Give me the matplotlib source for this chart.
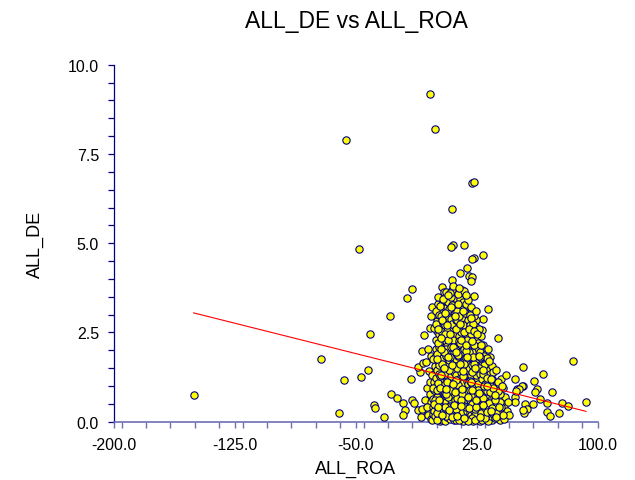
import matplotlib
matplotlib.use("Agg")
import matplotlib.pyplot as plt
from matplotlib.ticker import MultipleLocator, FormatStrFormatter
import numpy as np

plt.rcParams['font.family'] = ['Liberation Sans', 'DejaVu Sans']

# ---- data (ALL_ROA, ALL_DE) ----
outlier_pts = [
    (-56.4, 7.89), (-48.4, 4.85), (-150.6, 0.74), (-15.4, 3.73), (-18.3, 3.46),
    (-28.9, 2.95), (-41.5, 2.45), (-71.5, 1.76), (-42.4, 1.46), (-46.9, 1.26),
    (-57.6, 1.18), (-60.7, 0.25), (-38.6, 0.48), (-38.0, 0.38), (-32.8, 0.13),
    (-28.1, 0.78), (-24.4, 0.66), (-20.7, 0.52), (-19.6, 0.33), (-20.7, 0.20),
    (-15.5, 0.62), (-13.8, 0.53), (-11.3, 0.33), (-7.8, 0.22), (-15.7, 1.20),
    (-10.4, 1.38), (-11.3, 1.52), (-8.2, 1.64), (-9.2, 1.97), (-7.8, 2.43),
    (-5.1, 2.04), (-5.1, 0.43), (-5.1, 0.24),
    (-4.0, 9.19), (-0.9, 8.21), (21.7, 6.69), (23.4, 6.72), (9.7, 5.97),
    (9.9, 4.96), (9.1, 4.89), (17.0, 4.96), (28.5, 4.68), (23.0, 4.59),
    (14.7, 4.17), (19.0, 4.31), (20.2, 4.09), (21.9, 4.05), (21.1, 3.93),
    (9.7, 3.98), (21.7, 4.56), (31.6, 3.16), (28.8, 2.88), (28.0, 2.58),
    (38.2, 2.34), (84.6, 1.70), (53.7, 1.54), (65.7, 1.34), (48.6, 1.20),
    (60.5, 1.15), (53.3, 1.01), (62.0, 0.92), (71.7, 0.82), (49.6, 0.92),
    (48.6, 0.68), (64.1, 0.64), (68.2, 0.52), (77.9, 0.52), (81.2, 0.45),
    (92.6, 0.54), (54.8, 0.50), (55.9, 0.36), (54.2, 0.24), (68.2, 0.26),
    (70.3, 0.15), (76.0, 0.24), (59.9, 0.50), (52.7, 0.99), (51.1, 0.93),
    (60.9, 0.84), (49.2, 0.87), (48.6, 0.54), (53.7, 0.34),
]

cluster_pts = [
    # x -10 .. -3
    (-9.5, 0.12), (-8.8, 0.35), (-7.2, 0.62), (-6.0, 0.95), (-5.4, 0.18), (-5.0, 1.42),
    (-4.2, 0.78), (-3.5, 0.08), (-3.2, 1.85), (-4.0, 2.62), (-3.4, 2.95), (-6.8, 1.68),
    (-3.8, 0.55), (-2.9, 3.20), (-6.2, 0.40), (-4.4, 1.10),
    # x -3 .. 5
    (-2.8, 0.05), (-2.5, 0.22), (-2.2, 0.41), (-2.0, 0.63), (-1.7, 0.88), (-1.5, 1.10),
    (-1.2, 1.34), (-1.0, 1.57), (-0.8, 1.80), (-0.5, 2.05), (-0.3, 2.30), (0.0, 2.55),
    (0.3, 2.82), (0.6, 3.08), (0.9, 3.30), (1.2, 0.12), (1.5, 0.33), (1.8, 0.55),
    (2.0, 0.76), (2.3, 0.99), (2.6, 1.21), (2.9, 1.45), (3.1, 1.68), (3.4, 1.92),
    (3.7, 2.16), (4.0, 2.40), (4.3, 2.66), (4.6, 2.93), (4.8, 3.20), (3.1, 3.76),
    (4.6, 3.62), (-2.6, 1.32), (-1.9, 0.30), (-1.4, 2.62), (-0.9, 0.15), (-0.4, 0.48),
    (0.1, 0.70), (0.4, 1.02), (0.7, 1.25), (1.0, 1.70), (1.3, 2.10), (1.6, 2.45),
    (1.9, 0.02), (2.2, 1.88), (2.5, 3.05), (2.8, 0.45), (3.2, 0.85), (3.5, 1.10),
    (3.8, 0.20), (4.1, 1.55), (4.4, 0.65), (4.7, 1.30), (-2.3, 1.75), (-1.1, 0.60),
    (0.2, 1.45), (0.8, 0.38), (1.4, 0.90), (2.1, 2.75), (2.7, 2.25), (3.3, 0.05),
    (3.9, 0.95), (4.5, 2.05), (-0.6, 1.22), (0.5, 1.90), (1.1, 3.50), (1.7, 1.35),
    (2.4, 0.15), (3.0, 2.55), (3.6, 3.30), (4.2, 0.40), (4.9, 0.80), (-2.1, 0.95),
    (-0.2, 3.10), (1.6, 2.98), (2.9, 1.72), (4.0, 1.78), (-1.6, 0.50), (-0.7, 2.75),
    (0.3, 0.05), (0.9, 2.20), (1.5, 1.60), (2.2, 0.60), (2.9, 2.95), (3.5, 0.52),
    (4.2, 2.80), (4.8, 0.10), (0.0, 0.90), (1.0, 1.08), (2.0, 1.28), (3.0, 0.30),
    (4.0, 0.60),
    # x 5 .. 12
    (5.2, 0.03), (5.5, 0.18), (5.8, 0.34), (6.1, 0.50), (6.4, 0.67), (6.7, 0.83),
    (7.0, 1.00), (7.3, 1.16), (7.6, 1.33), (7.9, 1.50), (8.2, 1.66), (8.5, 1.83),
    (8.8, 2.00), (9.1, 2.17), (9.4, 2.34), (9.7, 2.51), (10.0, 2.68), (10.3, 2.85),
    (10.6, 3.02), (10.9, 3.19), (11.2, 3.36), (11.5, 3.53), (9.3, 3.70), (11.4, 3.46),
    (5.6, 3.44), (11.8, 0.10), (11.5, 0.28), (11.1, 0.45), (10.8, 0.62), (10.5, 0.80),
    (10.1, 0.97), (9.8, 1.14), (9.5, 1.31), (9.2, 1.49), (8.9, 1.66), (8.6, 1.83),
    (8.3, 2.00), (8.0, 2.18), (7.7, 2.35), (7.4, 2.52), (7.1, 2.69), (6.8, 2.86),
    (6.5, 3.03), (6.2, 3.20), (5.9, 3.38), (5.3, 1.05), (5.7, 1.62), (6.0, 2.25),
    (6.3, 0.12), (6.6, 1.40), (6.9, 0.28), (7.2, 1.92), (7.5, 0.55), (7.8, 2.90),
    (8.1, 0.08), (8.4, 0.72), (8.7, 2.62), (9.0, 0.40), (9.3, 1.05), (9.6, 0.18),
    (9.9, 1.80), (10.2, 0.58), (10.5, 2.32), (10.8, 1.22), (11.1, 2.05), (11.4, 0.85),
    (11.7, 1.55), (5.4, 2.72), (6.2, 0.88), (7.0, 3.35), (7.7, 0.98), (8.4, 3.12),
    (9.1, 2.88), (9.8, 3.28), (10.4, 0.25), (11.0, 2.72), (11.6, 3.05), (5.9, 0.55),
    (6.7, 2.12), (7.4, 1.72), (8.1, 1.25), (8.8, 0.60), (9.5, 2.75), (10.2, 1.50),
    (10.9, 0.05), (11.6, 2.45), (5.5, 2.05), (6.5, 1.18), (7.5, 0.20), (8.5, 0.45),
    (9.5, 0.72), (10.5, 1.68), (11.5, 1.10), (7.0, 0.70), (9.0, 3.50), (10.0, 3.80),
    (6.0, 3.62), (8.0, 3.60), (5.4, 1.35), (6.0, 1.85), (6.6, 2.55), (7.2, 0.40),
    (7.9, 3.15), (8.6, 1.15), (9.2, 0.22), (9.9, 2.30), (10.6, 1.95), (11.3, 0.62),
    (11.9, 2.85), (5.0, 2.45), (6.0, 0.15), (7.0, 2.30), (8.0, 0.90), (9.0, 1.28),
    (10.0, 0.40), (11.0, 1.40),
    # x 12 .. 20
    (12.2, 0.05), (12.5, 0.22), (12.8, 0.40), (13.1, 0.57), (13.4, 0.75), (13.7, 0.92),
    (14.0, 1.10), (14.3, 1.27), (14.6, 1.45), (14.9, 1.62), (15.2, 1.80), (15.5, 1.97),
    (15.8, 2.15), (16.1, 2.32), (16.4, 2.50), (16.7, 2.67), (17.0, 2.85), (17.3, 3.02),
    (17.6, 3.20), (17.9, 3.37), (15.5, 3.70), (14.5, 3.44), (19.8, 0.12), (19.5, 0.30),
    (19.2, 0.47), (18.9, 0.65), (18.6, 0.82), (18.3, 1.00), (18.0, 1.17), (17.7, 1.35),
    (17.4, 1.52), (17.1, 1.70), (16.8, 1.87), (16.5, 2.05), (16.2, 2.22), (15.9, 2.40),
    (15.6, 2.57), (15.3, 2.75), (15.0, 2.92), (14.7, 3.10), (14.4, 3.27), (13.0, 3.58),
    (12.3, 1.32), (12.6, 2.10), (12.9, 2.85), (13.2, 0.18), (13.5, 1.60), (13.8, 0.35),
    (14.1, 2.40), (14.4, 0.62), (14.7, 1.00), (15.0, 0.10), (15.3, 0.88), (15.6, 1.25),
    (15.9, 0.50), (16.2, 1.55), (16.5, 0.02), (16.8, 0.70), (17.1, 0.28), (17.4, 2.20),
    (17.7, 0.55), (18.0, 1.95), (18.3, 2.55), (18.6, 0.15), (18.9, 1.40), (19.2, 2.10),
    (19.5, 0.85), (19.8, 1.62), (12.4, 3.10), (13.3, 2.60), (14.2, 1.85), (15.1, 3.28),
    (16.0, 2.90), (16.9, 0.95), (17.8, 2.75), (18.7, 3.05), (19.6, 2.35), (12.7, 0.65),
    (13.6, 1.20), (14.5, 0.30), (15.4, 2.15), (16.3, 1.08), (17.2, 0.45), (18.1, 0.08),
    (19.0, 1.15), (19.9, 0.42), (12.1, 1.75), (13.9, 2.95), (16.6, 3.35), (18.4, 3.30),
    (17.5, 0.80), (19.3, 2.85), (12.8, 0.95), (14.8, 1.95), (12.5, 1.55), (13.2, 1.02),
    (13.8, 2.25), (14.4, 0.85), (15.1, 1.40), (15.7, 0.28), (16.4, 2.70), (17.0, 1.28),
    (17.7, 3.05), (18.4, 1.78), (19.1, 0.30), (19.7, 1.05), (12.0, 0.35), (13.0, 1.85),
    (14.0, 0.05), (15.0, 2.50), (16.0, 0.78), (17.0, 2.05), (18.0, 0.40), (19.0, 2.45),
    # x 20 .. 28
    (20.2, 0.05), (20.5, 0.25), (20.8, 0.45), (21.1, 0.65), (21.4, 0.85), (21.7, 1.05),
    (22.0, 1.25), (22.3, 1.45), (22.6, 1.65), (22.9, 1.85), (23.2, 2.05), (23.5, 2.25),
    (23.8, 2.45), (24.1, 2.65), (24.4, 2.85), (23.4, 3.51), (21.0, 3.20), (27.8, 0.10),
    (27.5, 0.30), (27.2, 0.50), (26.9, 0.70), (26.6, 0.90), (26.3, 1.10), (26.0, 1.30),
    (25.7, 1.50), (25.4, 1.70), (25.1, 1.90), (24.8, 2.10), (24.5, 2.30), (24.2, 0.15),
    (23.9, 0.55), (20.3, 1.50), (20.6, 2.20), (20.9, 2.70), (21.2, 0.18), (21.5, 1.80),
    (21.8, 0.38), (22.1, 2.45), (22.4, 0.75), (22.7, 0.02), (23.0, 1.10), (23.3, 0.30),
    (23.6, 1.35), (24.0, 0.95), (24.6, 1.55), (25.0, 0.40), (25.3, 0.08), (25.6, 0.72),
    (25.9, 2.00), (26.2, 0.22), (26.5, 1.65), (26.8, 0.48), (27.1, 1.25), (27.4, 0.85),
    (27.7, 2.40), (20.4, 0.90), (21.3, 1.30), (22.2, 1.95), (23.1, 2.95), (24.2, 1.75),
    (25.2, 1.20), (26.1, 2.60), (27.0, 0.02), (20.7, 3.00), (22.5, 2.75), (21.9, 1.60),
    (24.9, 0.60), (26.4, 0.35), (23.7, 0.20), (20.1, 1.95), (20.5, 1.15), (21.2, 2.45),
    (21.9, 0.10), (22.6, 1.05), (23.3, 1.62), (24.0, 0.35), (24.7, 1.00), (25.4, 2.20),
    (26.1, 0.55), (26.8, 1.95), (27.5, 0.62), (20.9, 0.60), (22.0, 0.50), (23.2, 0.80),
    (24.4, 1.30), (25.6, 1.05), (26.7, 1.35), (27.9, 1.65),
    # x 28 .. 36
    (28.2, 0.05), (28.5, 0.28), (28.8, 0.52), (29.1, 0.75), (29.4, 0.98), (29.7, 1.22),
    (30.0, 1.45), (30.3, 1.68), (30.6, 1.90), (31.0, 0.12), (31.3, 0.36), (31.6, 0.60),
    (31.9, 0.84), (32.2, 1.08), (32.5, 1.32), (32.8, 1.55), (33.1, 0.20), (33.4, 0.45),
    (33.7, 0.70), (34.0, 0.95), (34.3, 1.20), (34.6, 0.05), (34.9, 0.32), (35.2, 0.58),
    (35.5, 0.85), (35.8, 1.10), (28.4, 1.60), (29.0, 2.15), (29.6, 0.40), (30.2, 0.85),
    (30.8, 1.15), (31.4, 1.45), (32.0, 0.02), (32.6, 0.50), (33.2, 1.80), (33.8, 0.15),
    (29.3, 1.85), (30.5, 0.20), (31.8, 2.05), (33.0, 1.05), (34.5, 1.55), (35.4, 0.20),
    (28.6, 0.92), (30.9, 0.62), (32.3, 0.30), (28.2, 1.20), (28.9, 0.18), (29.6, 1.58),
    (30.3, 0.45), (31.0, 1.78), (31.7, 0.95), (32.4, 0.75), (33.1, 1.35), (33.8, 0.55),
    (34.5, 0.82), (35.2, 1.38), (35.9, 0.40), (29.0, 1.35), (30.1, 1.05), (31.2, 0.85),
    (32.3, 1.70), (33.5, 1.00), (34.6, 0.65), (35.7, 0.70),
    # x 36 .. 46
    (36.2, 0.10), (36.6, 0.42), (37.0, 0.75), (37.4, 1.05), (37.8, 0.22), (38.2, 0.55),
    (38.6, 0.88), (39.0, 0.05), (39.4, 0.35), (39.8, 1.20), (40.2, 0.65), (40.6, 0.15),
    (41.0, 0.95), (41.5, 0.42), (42.0, 0.08), (42.5, 0.70), (43.0, 1.30), (43.5, 0.30),
    (44.2, 0.55), (45.0, 0.18), (36.8, 1.45), (36.6, 0.95), (37.3, 0.50), (38.0, 1.10),
    (38.7, 0.28), (39.4, 0.78), (40.1, 0.40), (41.2, 0.20), (36.9, 0.25), (38.1, 0.85),
    (39.2, 0.55), (40.5, 1.00),
]

core_extra_pts = [
    (0.5, 0.25), (1.3, 0.62), (2.1, 0.95), (2.8, 1.30), (3.6, 1.62), (4.4, 1.95),
    (5.1, 0.40), (5.9, 0.78), (6.7, 1.10), (7.4, 1.45), (8.2, 1.80), (9.0, 2.10),
    (9.7, 0.12), (10.5, 0.48), (11.2, 0.82), (12.0, 1.18), (12.7, 1.50), (13.5, 1.88),
    (14.2, 2.20), (15.0, 0.60), (15.7, 0.92), (16.5, 1.28), (17.2, 1.62), (18.0, 1.98),
    (18.7, 2.30), (19.5, 0.02), (20.2, 0.38), (21.0, 0.72), (21.7, 1.40), (22.5, 1.80),
    (23.2, 2.15), (24.0, 0.05), (24.7, 0.42), (25.5, 0.88), (26.2, 1.50), (27.0, 1.82),
    (27.7, 0.25), (28.5, 0.65), (29.2, 1.00), (30.0, 0.10), (30.7, 0.35), (31.5, 1.22),
    (32.2, 0.52), (33.0, 0.82), (33.7, 1.20), (34.5, 0.38), (35.2, 0.95), (36.0, 0.62),
    (37.0, 0.12), (38.5, 0.40),
    (0.8, 2.60), (1.8, 3.25), (2.6, 2.05), (3.4, 2.85), (4.2, 3.45), (5.2, 3.05),
    (6.2, 2.70), (7.2, 3.55), (8.2, 2.45), (9.2, 3.20), (10.2, 2.10), (11.2, 2.95),
    (12.2, 2.60), (13.2, 3.30), (14.2, 2.75), (15.2, 2.30), (16.2, 3.10), (17.2, 2.50),
    (18.2, 2.15), (19.2, 3.40), (20.2, 2.60), (21.2, 2.90), (22.2, 2.25), (23.2, 2.55),
    (24.2, 3.10), (25.2, 2.45), (26.2, 1.85), (27.2, 2.15), (16.8, 3.65), (13.8, 3.75),
    (18.2, 3.55),
    (1.0, 0.42), (3.2, 0.18), (5.6, 0.92), (7.8, 0.32), (10.0, 1.05), (12.4, 0.15),
    (14.8, 0.45), (17.0, 0.10), (19.4, 0.70), (21.8, 0.88), (24.2, 0.62), (26.6, 0.12),
    (29.0, 0.48), (31.4, 0.28), (33.8, 0.30), (36.2, 0.75), (0.0, 1.75), (2.4, 2.35),
    (4.8, 1.50), (7.0, 1.80), (9.4, 1.60), (11.8, 1.95), (14.2, 1.62), (16.6, 1.42),
    (19.0, 1.80), (21.4, 1.10), (23.8, 1.50), (26.2, 0.80), (28.6, 1.45), (31.0, 1.00),
]

all_pts = outlier_pts + cluster_pts + core_extra_pts
all_roa = [p[0] for p in all_pts]
all_de = [p[1] for p in all_pts]

reg_intercept = 1.34
reg_slope = -0.01134

x_ticks = [-200.0, -125.0, -50.0, 25.0, 100.0]
y_ticks = [0.0, 2.5, 5.0, 7.5, 10.0]

# ---- figure ----
fig = plt.figure(figsize=(6.35, 4.81), dpi=100)
ax = fig.add_axes([0.1795, 0.1212, 0.9417 - 0.1795, 0.8634 - 0.1212])

ax.scatter(all_roa, all_de, s=28, facecolor='#ffff00', edgecolor='#000080',
           linewidths=0.8, zorder=3, clip_on=False)

xs = np.array([min(all_roa), max(all_roa)])
ax.plot(xs, reg_intercept + reg_slope * xs, color='#ff0000', linewidth=0.8, zorder=4)

ax.set_xlim(x_ticks[0], x_ticks[-1])
ax.set_ylim(y_ticks[0], y_ticks[-1])
ax.set_xticks(x_ticks)
ax.set_yticks(y_ticks)
ax.xaxis.set_minor_locator(MultipleLocator(15))
ax.yaxis.set_minor_locator(MultipleLocator(0.5))
ax.xaxis.set_major_formatter(FormatStrFormatter('%.1f'))
ax.yaxis.set_major_formatter(FormatStrFormatter('%.1f'))

for s in ['top', 'right']:
    ax.spines[s].set_visible(False)
ax.spines['left'].set_color('#000080')
ax.spines['left'].set_linewidth(0.9)
ax.spines['bottom'].set_color('#6e6eb4')
ax.spines['bottom'].set_linewidth(1.2)

ax.tick_params(axis='y', which='both', direction='out', length=4.3, width=0.9,
               color='#000080', labelsize=11.5, pad=6.5, labelcolor='black')
ax.tick_params(axis='x', which='both', direction='out', length=4.3, width=1.0,
               color='#6e6eb4', labelsize=11.5, pad=7.0, labelcolor='black')

ax.set_xlabel('ALL_ROA', fontsize=13, labelpad=5)
ax.set_ylabel('ALL_DE', fontsize=13, labelpad=17)
ax.set_title('ALL_DE vs ALL_ROA', fontsize=16.5, pad=27)

fig.savefig('out.png', dpi=100)
